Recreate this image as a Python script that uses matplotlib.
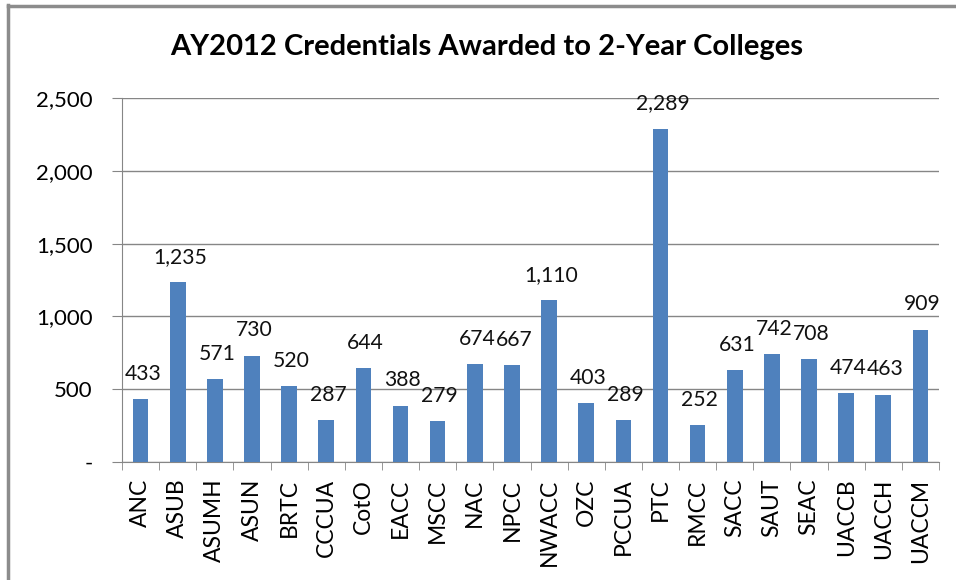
import matplotlib.pyplot as plt
from matplotlib.lines import Line2D
import numpy as np

colleges = ["ANC", "ASUB", "ASUMH", "ASUN", "BRTC", "CCCUA", "CotO", "EACC",
            "MSCC", "NAC", "NPCC", "NWACC", "OZC", "PCCUA", "PTC", "RMCC",
            "SACC", "SAUT", "SEAC", "UACCB", "UACCH", "UACCM"]
credentials = [433, 1235, 571, 730, 520, 287, 644, 388, 279, 674, 667, 1110,
               403, 289, 2289, 252, 631, 742, 708, 474, 463, 909]
yticks = [0, 500, 1000, 1500, 2000, 2500]
ytick_labels = ["-", "500", "1,000", "1,500", "2,000", "2,500"]

plt.rcParams["font.family"] = ["Lato", "DejaVu Sans"]

fig = plt.figure(figsize=(9.56, 5.8), dpi=100)
ax = fig.add_axes([122 / 956, 1 - 462 / 580, (939 - 122) / 956, (462 - 98) / 580])

grid_color = "#868686"
x = np.arange(len(colleges))
ax.bar(x, credentials, width=0.42, color="#4F81BD", zorder=3)

for xi, v in zip(x, credentials):
    ax.annotate(f"{v:,}", (xi, v), xytext=(1.5, 11), textcoords="offset points",
                ha="center", va="bottom", fontsize=15.2, color="#111111")

ax.set_xlim(-0.5, len(colleges) - 0.5)
ax.set_ylim(0, 2500)
ax.set_yticks(yticks)
ax.set_yticklabels(ytick_labels, fontsize=16)
ax.set_xticks(x)
ax.set_xticklabels(colleges, rotation=90, fontsize=16.5)
ax.set_xticks(np.arange(len(colleges) + 1) - 0.5, minor=True)
ax.tick_params(axis="x", which="major", length=0, pad=12)
ax.tick_params(axis="x", which="minor", length=6, color=grid_color)
ax.tick_params(axis="y", length=7, color=grid_color, pad=14)
ax.yaxis.grid(True, color=grid_color, linewidth=1)
ax.set_axisbelow(True)

for s in ["top", "right"]:
    ax.spines[s].set_visible(False)
for s in ["left", "bottom"]:
    ax.spines[s].set_color(grid_color)

fig.text(487 / 956, 1 - 47 / 580, "AY2012 Credentials Awarded to 2-Year Colleges",
         ha="center", va="center", fontsize=21, fontweight="bold")

# chart frame (left and top edges only visible)
fig.add_artist(Line2D([7.5 / 956, 7.5 / 956], [0, 1 - 5 / 580], color="#8c8c8c", lw=2.5))
fig.add_artist(Line2D([7.5 / 956, 1], [1 - 5.5 / 580, 1 - 5.5 / 580], color="#8c8c8c", lw=2.5))

fig.savefig("out.png", dpi=100)
